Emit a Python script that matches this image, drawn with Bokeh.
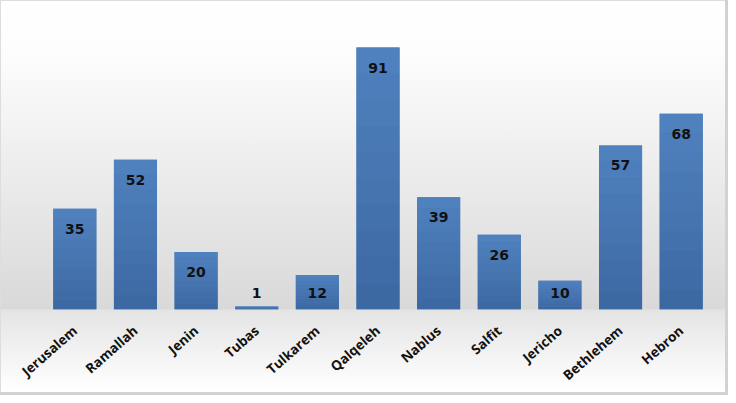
import math
from bokeh.plotting import figure
from bokeh.models import ColumnDataSource, LabelSet, FactorRange
from bokeh.core.properties import value
from bokeh.embed import file_html
from bokeh.resources import INLINE

cities = ["Jerusalem", "Ramallah", "Jenin", "Tubas", "Tulkarem", "Qalqeleh",
          "Nablus", "Salfit", "Jericho", "Bethlehem", "Hebron"]
counts = [35, 52, 20, 1, 12, 91, 39, 26, 10, 57, 68]

FRAME_H = 309
PX = (309 - 47) / 91.0
Y_MAX = FRAME_H / PX
label_y = [max(v - 20 / PX, 17 / PX) for v in counts]

src = ColumnDataSource(dict(city=cities, count=counts, ly=label_y,
                            txt=[str(v) for v in counts]))

p = figure(x_range=FactorRange(*cities, range_padding=0), y_range=(0, Y_MAX),
           width=728, height=395, output_backend="svg", toolbar_location=None,
           min_border_left=44, min_border_right=17, min_border_top=0,
           min_border_bottom=86)
p.background_fill_alpha = 0
p.border_fill_alpha = 0
p.outline_line_color = None
p.styles = {
    "background": "linear-gradient(to bottom, #ffffff 0px, #fdfdfd 50px, #eeeeee 160px, #d9d9d9 309px, #e4e4e4 310px, #ffffff 390px)",
    "box-shadow": "inset -3px -3px 0px #d2d2d2, inset 1px 1px 0px #dddddd",
}
p.grid.visible = False
p.yaxis.visible = False

# solid base bar, then a vertical gradient drawn as stacked slices of each value
p.vbar(x="city", top="count", bottom=0, width=0.71, source=src,
       fill_color="#4675b0", line_color=None)
N = 10
c_bot = (0x3C, 0x68, 0xA2)
c_top = (0x50, 0x82, 0xBF)
seg_x, seg_b, seg_t, seg_c = [], [], [], []
for c, v in zip(cities, counts):
    for i in range(N):
        f = (i + 0.5) / N
        col = tuple(round(a + (b - a) * f) for a, b in zip(c_bot, c_top))
        seg_x.append(c)
        seg_b.append(v * i / N)
        seg_t.append(v * (i + 1) / N)
        seg_c.append("#%02x%02x%02x" % col)
p.vbar(x=seg_x, bottom=seg_b, top=seg_t, width=0.71, fill_color=seg_c,
       line_color=None)

p.add_layout(LabelSet(x="city", y="ly", text="txt", source=src,
                      text_align="center", text_baseline="middle",
                      text_font=value("DejaVu Sans"), text_font_style="bold",
                      text_font_size="14px", text_color="#111111"))

ax = p.xaxis[0]
ax.axis_line_color = None
ax.major_tick_line_color = None
ax.minor_tick_line_color = None
ax.major_label_orientation = 0.72
ax.major_label_standoff = 13
ax.major_label_text_font = "Open Sans"
ax.major_label_text_font_style = "bold"
ax.major_label_text_font_size = "13.5px"
ax.major_label_text_color = "#111111"

open("out.html", "w").write(file_html(p, INLINE))
